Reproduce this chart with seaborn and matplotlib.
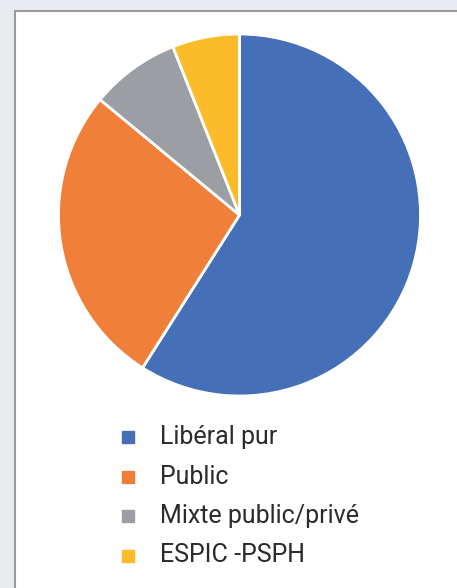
import matplotlib
matplotlib.use("Agg")
import matplotlib.pyplot as plt
import seaborn as sns
from matplotlib.patches import Rectangle
from matplotlib.lines import Line2D

# Répartition par mode d'exercice (en %)
categories = ["Libéral pur", "Public", "Mixte public/privé", "ESPIC -PSPH"]
shares = [59, 27, 8, 6]
colors = ["#4570b8", "#f07f3a", "#9b9ea2", "#fcbc2a"]

sns.set_style("white")
plt.rcParams["font.family"] = ["Roboto", "DejaVu Sans"]

W, H = 457, 588
fig = plt.figure(figsize=(W / 100, H / 100), dpi=100)
fig.patch.set_facecolor("#e8ebef")

# white panel with a grey frame, running off the right and bottom edges
fig.patches.append(Rectangle((15 / W, -0.05), 1.1, (H - 11) / H + 0.05,
                             transform=fig.transFigure, facecolor="white",
                             edgecolor="#9a9a9a", linewidth=1.5, zorder=-5))

# pie: centre (239.5, 215) px, radius 181 px
cx, cy, r = 239.5, 215, 181
ax = fig.add_axes([(cx - r) / W, (H - cy - r) / H, 2 * r / W, 2 * r / H])
ax.set_zorder(2)
ax.patch.set_alpha(0)
ax.pie(shares, colors=colors, startangle=90, counterclock=False,
       wedgeprops=dict(edgecolor="white", linewidth=2))
ax.set_xlim(-1, 1)
ax.set_ylim(-1, 1)
ax.axis("off")

# legend
y0, step = 437, 39.5
for i, (lab, col) in enumerate(zip(categories, colors)):
    y = 1 - (y0 + i * step) / H
    fig.add_artist(Line2D([128 / W], [y], marker="s", markersize=9,
                          color=col, linestyle="none",
                          transform=fig.transFigure, zorder=3))
    fig.text(160 / W, y, lab, fontsize=18, color="#2b2b2b",
             va="center", ha="left", zorder=3)

fig.savefig("out.png", dpi=100, facecolor=fig.get_facecolor())
